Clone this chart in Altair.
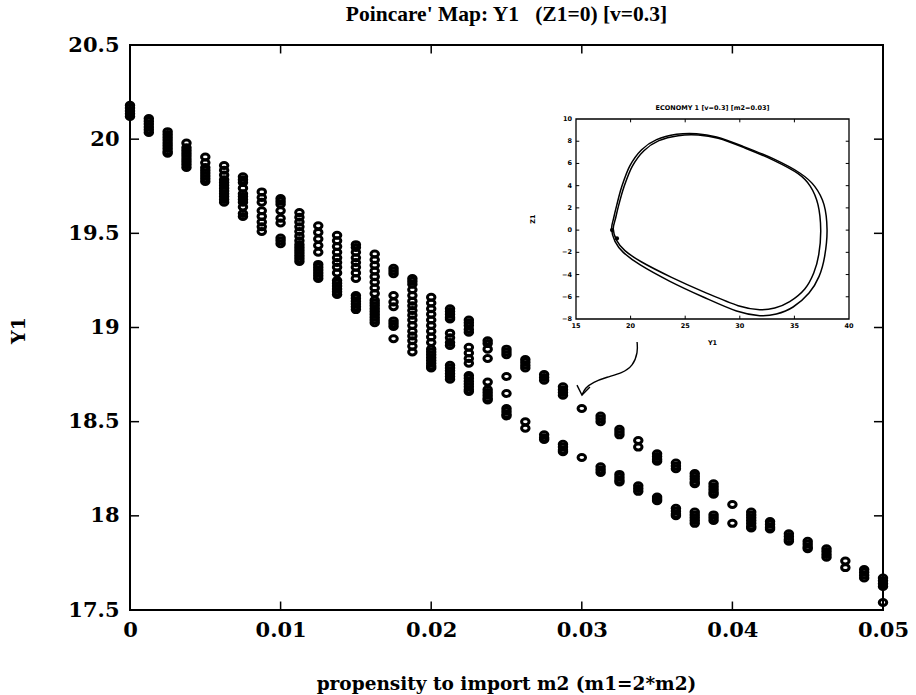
import altair as alt
import pandas as pd

# ---------------- data ----------------
M2 = [0.0, 0.00125, 0.0025, 0.00375, 0.005, 0.00625, 0.0075, 0.00875, 0.01, 0.01125,
      0.0125, 0.01375, 0.015, 0.01625, 0.0175, 0.01875, 0.02, 0.02125, 0.0225, 0.02375,
      0.025, 0.02625, 0.0275, 0.02875, 0.03, 0.03125, 0.0325, 0.03375, 0.035, 0.03625,
      0.0375, 0.03875, 0.04, 0.04125, 0.0425, 0.04375, 0.045, 0.04625, 0.0475, 0.04875, 0.05]

Y1_COLUMNS = [
    [20.18, 20.165, 20.15, 20.135, 20.12],
    [20.11, 20.095, 20.08, 20.065, 20.05, 20.035],
    [20.04, 20.025, 20.01, 19.995, 19.98, 19.965, 19.95, 19.935, 19.925],
    [19.98, 19.955, 19.94, 19.925, 19.91, 19.895, 19.88, 19.865, 19.85],
    [19.905, 19.875, 19.85, 19.835, 19.82, 19.805, 19.79, 19.775],
    [19.86, 19.835, 19.81, 19.785, 19.77, 19.755, 19.74, 19.725, 19.71, 19.695, 19.68, 19.665],
    [19.80, 19.785, 19.77, 19.74, 19.71, 19.695, 19.68, 19.665, 19.64, 19.605, 19.59],
    [19.72, 19.69, 19.665, 19.62, 19.59, 19.56, 19.535, 19.51],
    [19.685, 19.67, 19.655, 19.62, 19.58, 19.555, 19.475, 19.46, 19.445],
    [19.61, 19.585, 19.56, 19.535, 19.51, 19.485, 19.46, 19.44, 19.425, 19.41, 19.395, 19.38, 19.365, 19.35],
    [19.54, 19.505, 19.47, 19.435, 19.40, 19.335, 19.32, 19.305, 19.29, 19.275, 19.26],
    [19.49, 19.46, 19.43, 19.40, 19.37, 19.345, 19.32, 19.29, 19.25, 19.235, 19.22, 19.205, 19.19, 19.175],
    [19.44, 19.425, 19.40, 19.37, 19.345, 19.32, 19.29, 19.26, 19.17, 19.155, 19.14, 19.125, 19.11, 19.095],
    [19.39, 19.36, 19.33, 19.30, 19.27, 19.24, 19.21, 19.18, 19.145, 19.13, 19.115, 19.10, 19.085,
     19.07, 19.055, 19.04, 19.025],
    [19.315, 19.30, 19.285, 19.17, 19.135, 19.11, 19.035, 19.02, 19.005, 18.94],
    [19.26, 19.245, 19.23, 19.20, 19.17, 19.14, 19.115, 19.09, 19.065, 19.04, 19.01, 18.98, 18.955,
     18.93, 18.90, 18.87],
    [19.16, 19.13, 19.10, 19.07, 19.04, 19.01, 18.98, 18.95, 18.92, 18.885, 18.87, 18.855, 18.84,
     18.825, 18.81, 18.795, 18.785],
    [19.10, 19.085, 19.07, 19.055, 19.045, 18.97, 18.945, 18.92, 18.905, 18.80, 18.785, 18.77,
     18.755, 18.74, 18.725],
    [19.04, 19.025, 19.01, 18.99, 18.975, 18.895, 18.865, 18.835, 18.81, 18.745, 18.73, 18.715,
     18.70, 18.685, 18.67, 18.66],
    [18.93, 18.915, 18.885, 18.835, 18.71, 18.67, 18.655, 18.64, 18.625, 18.615],
    [18.885, 18.87, 18.855, 18.74, 18.65, 18.57, 18.555, 18.54, 18.53],
    [18.83, 18.815, 18.80, 18.785, 18.50, 18.465],
    [18.75, 18.735, 18.72, 18.43, 18.415, 18.405],
    [18.685, 18.67, 18.655, 18.64, 18.38, 18.365, 18.35, 18.34],
    [18.57, 18.31],
    [18.53, 18.515, 18.50, 18.26, 18.245, 18.23],
    [18.46, 18.445, 18.43, 18.22, 18.205, 18.19, 18.18],
    [18.40, 18.365, 18.16, 18.145, 18.13],
    [18.33, 18.315, 18.30, 18.29, 18.10, 18.09, 18.08],
    [18.28, 18.265, 18.25, 18.04, 18.025, 18.01, 18.0],
    [18.225, 18.21, 18.195, 18.18, 18.17, 18.02, 18.005, 17.99, 17.975, 17.96],
    [18.17, 18.155, 18.14, 18.125, 18.115, 18.005, 17.99, 17.975],
    [18.06, 17.96],
    [18.02, 18.005, 17.99, 17.975, 17.96, 17.945, 17.935],
    [17.97, 17.955, 17.94, 17.93],
    [17.905, 17.89, 17.875, 17.865],
    [17.865, 17.85, 17.835, 17.825],
    [17.825, 17.81, 17.795, 17.78],
    [17.76, 17.725],
    [17.715, 17.70, 17.685, 17.67],
    [17.67, 17.655, 17.64, 17.625, 17.54],
]

TITLE = "Poincare' Map: Y1\u00a0\u00a0\u00a0(Z1=0) [v=0.3]"
X_TITLE = "propensity to import m2 (m1=2*m2)"
Y_TITLE = "Y1"
X_TICKS = [0.0, 0.01, 0.02, 0.03, 0.04, 0.05]
Y_TICKS = [17.5, 18.0, 18.5, 19.0, 19.5, 20.0, 20.5]

# arrow from the inset down to the point at m2 = 0.03
ARROW_M2 = [0.03367, 0.03373, 0.03340, 0.03267, 0.03167, 0.03074, 0.03021, 0.03001]
ARROW_Y1 = [18.923, 18.870, 18.795, 18.758, 18.737, 18.710, 18.678, 18.641]
ARROWHEAD_M2 = [0.02968, 0.03001, 0.03054]
ARROWHEAD_Y1 = [18.694, 18.641, 18.684]

# inset: ECONOMY 1 trajectory (Y1, Z1)
INSET_TITLE = "ECONOMY 1 [v=0.3] [m2=0.03]"
INSET_X_TITLE = "Y1"
INSET_Y_TITLE = "Z1"
INSET_X_TICKS = [15, 20, 25, 30, 35, 40]
INSET_Y_TICKS = [-8, -6, -4, -2, 0, 2, 4, 6, 8, 10]
LOOP_A_Y1 = [18.26, 18.45, 18.72, 19.18, 19.94, 21.01, 22.38, 24.21, 26.04, 27.87, 30.30, 33.05,
             35.49, 36.86, 37.71, 37.99, 37.77, 37.26, 36.34, 34.88, 33.35, 31.83, 29.70, 26.65,
             23.60, 20.85, 19.33, 18.57]
LOOP_A_Z1 = [0.10, 1.09, 2.20, 3.88, 5.80, 7.24, 8.14, 8.62, 8.68, 8.38, 7.54, 6.43,
             5.14, 3.94, 2.29, 0.04, -2.36, -4.16, -5.66, -6.92, -7.55, -7.70, -7.28, -6.02,
             -4.61, -3.11, -2.00, -1.01]
LOOP_B_Y1 = [18.41, 18.63, 18.90, 19.39, 20.15, 21.22, 22.59, 24.36, 26.19, 28.02, 30.46, 33.11,
             35.34, 36.46, 37.16, 37.41, 37.23, 36.77, 35.95, 34.57, 33.20, 31.83, 29.85, 26.80,
             23.75, 21.01, 19.48, 18.72]
LOOP_B_Z1 = [0.10, 1.09, 2.20, 3.88, 5.74, 7.15, 8.05, 8.50, 8.56, 8.26, 7.39, 6.28,
             5.08, 3.94, 2.29, 0.04, -2.21, -3.86, -5.30, -6.44, -7.01, -7.16, -6.80, -5.60,
             -4.25, -2.87, -1.85, -0.92]
KNOT_Y1 = [18.30, 18.75]
KNOT_Z1 = [0.0, -0.75]

# ---------------- styling constants ----------------
SERIF = "DejaVu Serif"
ELLIPSE = "M -1 0 A 1 0.8 0 1 1 1 0 A 1 0.8 0 1 1 -1 0 Z"
PLOT_W, PLOT_H = 753, 565
TICK_DX = 0.0006   # inward tick length on the main chart (x units)
TICK_DY = 0.045    # inward tick length on the main chart (y units)
ITICK = 0.3        # inward tick length in the inset (data units)

# ---------------- frames ----------------
pts = pd.DataFrame([{"m2": m, "y1": v} for m, col in zip(M2, Y1_COLUMNS) for v in col])

x0, x1 = X_TICKS[0], X_TICKS[-1]
y0, y1 = Y_TICKS[0], Y_TICKS[-1]
tick_rows = []
for v in X_TICKS[1:-1]:
    tick_rows.append({"m2": v, "m2b": v, "y1": y0, "y1b": y0 + TICK_DY})
    tick_rows.append({"m2": v, "m2b": v, "y1": y1, "y1b": y1 - TICK_DY})
for v in Y_TICKS[1:-1]:
    tick_rows.append({"m2": x0, "m2b": x0 + TICK_DX, "y1": v, "y1b": v})
    tick_rows.append({"m2": x1, "m2b": x1 - TICK_DX, "y1": v, "y1b": v})
ticks = pd.DataFrame(tick_rows)

arrow = pd.DataFrame({"m2": ARROW_M2, "y1": ARROW_Y1, "o": range(len(ARROW_M2))})
head = pd.DataFrame({"m2": ARROWHEAD_M2, "y1": ARROWHEAD_Y1, "o": range(len(ARROWHEAD_M2))})
title_df = pd.DataFrame({"m2": [(x0 + x1) / 2], "y1": [y1], "t": [TITLE]})

xs = alt.Scale(domain=[x0, x1], nice=False, zero=False)
ys = alt.Scale(domain=[y0, y1], nice=False, zero=False)

x_axis = alt.Axis(values=X_TICKS, title=X_TITLE, domain=False, ticks=False, grid=False, format="~f",
                  labelFont=SERIF, labelFontWeight="bold", labelFontSize=21, labelColor="black",
                  labelPadding=9, labelFlush=False, labelOverlap=False,
                  titleFont=SERIF, titleFontWeight="bold", titleFontSize=18.5, titleColor="black",
                  titleX=376, titleY=73, titleBaseline="middle")
y_axis = alt.Axis(values=Y_TICKS, title=Y_TITLE, domain=False, ticks=False, grid=False, format="~f",
                  labelFont=SERIF, labelFontWeight="bold", labelFontSize=21, labelColor="black",
                  labelPadding=11, labelFlush=False, labelOverlap=False,
                  titleFont=SERIF, titleFontWeight="bold", titleFontSize=19, titleColor="black",
                  titleAngle=270, titleX=-112, titleY=285, titleBaseline="middle", titleAlign="center")

X = lambda f: alt.X(f, type="quantitative", scale=xs, axis=x_axis)
Y = lambda f: alt.Y(f, type="quantitative", scale=ys, axis=y_axis)

points_layer = alt.Chart(pts).mark_point(
    shape=ELLIPSE, filled=False, color="black", strokeWidth=3.0, size=56, opacity=1
).encode(x=X("m2"), y=Y("y1"))

ticks_layer = alt.Chart(ticks).mark_rule(color="black", strokeWidth=1.5).encode(
    x=X("m2"), x2="m2b", y=Y("y1"), y2="y1b")

arrow_layer = alt.Chart(arrow).mark_line(color="black", strokeWidth=1.4, interpolate="basis").encode(
    x=X("m2"), y=Y("y1"), order="o:Q")
head_layer = alt.Chart(head).mark_line(color="black", strokeWidth=1.4).encode(
    x=X("m2"), y=Y("y1"), order="o:Q")

title_layer = alt.Chart(title_df).mark_text(
    font="Liberation Serif", fontSize=21.5, fontWeight="bold", color="black",
    baseline="middle", dy=-30
).encode(x=X("m2"), y=Y("y1"), text="t:N")

main = alt.layer(points_layer, ticks_layer, arrow_layer, head_layer, title_layer)

# ---------------- inset ----------------
ixs = alt.Scale(domain=[INSET_X_TICKS[0], INSET_X_TICKS[-1]], range=[446, 719], nice=False, zero=False)
iys = alt.Scale(domain=[INSET_Y_TICKS[0], INSET_Y_TICKS[-1]], range=[274, 74], nice=False, zero=False)
IX = lambda f: alt.X(f, type="quantitative", scale=ixs, axis=None)
IY = lambda f: alt.Y(f, type="quantitative", scale=iys, axis=None)

ix0, ix1 = INSET_X_TICKS[0], INSET_X_TICKS[-1]
iy0, iy1 = INSET_Y_TICKS[0], INSET_Y_TICKS[-1]

frame = pd.DataFrame([{"a": ix0, "b": ix1, "c": iy0, "d": iy1}])
frame_layer = alt.Chart(frame).mark_rect(filled=False, color="black", strokeWidth=1.3).encode(
    x=IX("a"), x2="b", y=IY("c"), y2="d")

it_rows = []
for v in INSET_X_TICKS[1:-1]:
    it_rows.append({"a": v, "b": v, "c": iy0, "d": iy0 + ITICK})
    it_rows.append({"a": v, "b": v, "c": iy1, "d": iy1 - ITICK})
for v in INSET_Y_TICKS[1:-1]:
    it_rows.append({"a": ix0, "b": ix0 + ITICK, "c": v, "d": v})
    it_rows.append({"a": ix1, "b": ix1 - ITICK, "c": v, "d": v})
itick_layer = alt.Chart(pd.DataFrame(it_rows)).mark_rule(color="black", strokeWidth=1).encode(
    x=IX("a"), x2="b", y=IY("c"), y2="d")

loops = pd.concat([
    pd.DataFrame({"y1": LOOP_A_Y1, "z1": LOOP_A_Z1, "loop": "A", "o": range(len(LOOP_A_Y1))}),
    pd.DataFrame({"y1": LOOP_B_Y1, "z1": LOOP_B_Z1, "loop": "B", "o": range(len(LOOP_B_Y1))}),
])
loop_layer = alt.Chart(loops).mark_line(color="black", strokeWidth=1.5, interpolate="cardinal-closed").encode(
    x=IX("y1"), y=IY("z1"), detail="loop:N", order="o:Q")
knot_layer = alt.Chart(pd.DataFrame({"y1": KNOT_Y1, "z1": KNOT_Z1})).mark_point(
    filled=True, color="black", size=18, opacity=1).encode(x=IX("y1"), y=IY("z1"))

ixl = pd.DataFrame({"a": INSET_X_TICKS, "c": iy0})
ixl_layer = alt.Chart(ixl).mark_text(font="DejaVu Sans", fontWeight="bold", fontSize=6.5,
                                     baseline="top", dy=4, color="black").encode(
    x=IX("a"), y=IY("c"), text=alt.Text("a:Q", format="d"))
iyl = pd.DataFrame({"a": ix0, "c": INSET_Y_TICKS})
iyl_layer = alt.Chart(iyl).mark_text(font="DejaVu Sans", fontWeight="bold", fontSize=6.5,
                                     align="right", baseline="middle", dx=-4, color="black").encode(
    x=IX("a"), y=IY("c"), text=alt.Text("c:Q", format="d"))

ititle = pd.DataFrame({"a": [(ix0 + ix1) / 2], "c": [iy1], "t": [INSET_TITLE]})
ititle_layer = alt.Chart(ititle).mark_text(font="DejaVu Sans", fontWeight="bold", fontSize=6.5,
                                           baseline="middle", dy=-11, color="black").encode(
    x=IX("a"), y=IY("c"), text="t:N")
ixt = pd.DataFrame({"a": [(ix0 + ix1) / 2], "c": [iy0], "t": [INSET_X_TITLE]})
ixt_layer = alt.Chart(ixt).mark_text(font="DejaVu Sans", fontWeight="bold", fontSize=6.5,
                                     baseline="middle", dy=24, color="black").encode(
    x=IX("a"), y=IY("c"), text="t:N")
iyt = pd.DataFrame({"a": [ix0], "c": [(iy0 + iy1) / 2], "t": [INSET_Y_TITLE]})
iyt_layer = alt.Chart(iyt).mark_text(font="DejaVu Sans", fontWeight="bold", fontSize=6.5,
                                     baseline="middle", angle=270, dy=-43, color="black").encode(
    x=IX("a"), y=IY("c"), text="t:N")

inset = alt.layer(frame_layer, itick_layer, loop_layer, knot_layer,
                  ixl_layer, iyl_layer, ititle_layer, ixt_layer, iyt_layer)

chart = alt.layer(main, inset).resolve_scale(x="independent", y="independent").properties(
    width=PLOT_W, height=PLOT_H,
    autosize=alt.AutoSizeParams(type="none"),
    padding={"left": 130, "top": 45, "right": 33, "bottom": 85},
).configure(background="white", view=alt.ViewConfig(stroke="black", strokeWidth=2))

chart.save("out.html", embed_options={"renderer": "svg", "actions": False})
